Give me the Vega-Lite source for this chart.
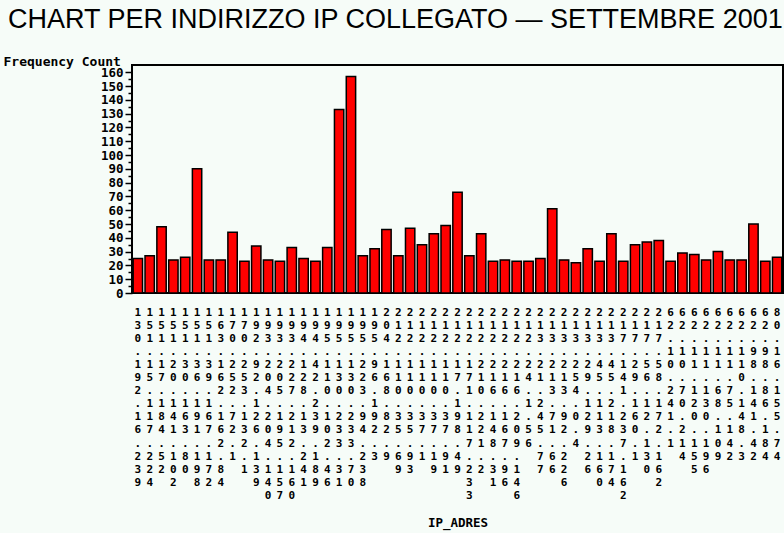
{
  "$schema": "https://vega.github.io/schema/vega-lite/v6.json",
  "width": 651,
  "height": 228,
  "autosize": {"type": "none"},
  "padding": {"left": 132, "top": 65, "right": 1, "bottom": 240},
  "background": "#f6fcf8",
  "title": {
    "text": "CHART PER INDIRIZZO IP COLLEGATO — SETTEMBRE 2001",
    "anchor": "start",
    "frame": "group",
    "font": "Liberation Sans",
    "fontSize": 27,
    "fontWeight": "normal",
    "color": "#000000",
    "dx": -124,
    "offset": 0,
    "baseline": "alphabetic"
  },
  "config": {"view": {"stroke": "#000000", "strokeWidth": 2}},
  "data": {
    "values": [
      {"ip": "130.192.16.239", "n": 25},
      {"ip": "151.15.117.224", "n": 27},
      {"ip": "151.17.184.52", "n": 48},
      {"ip": "151.20.141.102", "n": 24},
      {"ip": "151.30.163.80", "n": 26},
      {"ip": "151.36.191.198", "n": 90},
      {"ip": "151.39.167.172", "n": 24},
      {"ip": "163.162.162.84", "n": 24},
      {"ip": "170.252.72.1", "n": 44},
      {"ip": "170.253.132.1", "n": 23},
      {"ip": "192.92.126.139", "n": 34},
      {"ip": "193.204.204.140", "n": 24},
      {"ip": "193.205.195.157", "n": 23},
      {"ip": "193.227.212.160", "n": 33},
      {"ip": "194.128.13.241", "n": 25},
      {"ip": "194.42.239.189", "n": 23},
      {"ip": "195.110.102.46", "n": 33},
      {"ip": "195.130.233.31", "n": 133},
      {"ip": "195.130.233.70", "n": 157},
      {"ip": "195.223.94.238", "n": 27},
      {"ip": "195.96.192.3", "n": 32},
      {"ip": "204.168.82.9", "n": 46},
      {"ip": "212.110.35.69", "n": 27},
      {"ip": "212.110.35.93", "n": 47},
      {"ip": "212.110.37.1", "n": 35},
      {"ip": "212.110.37.19", "n": 43},
      {"ip": "212.110.37.91", "n": 49},
      {"ip": "212.17.198.49", "n": 73},
      {"ip": "212.171.117.233", "n": 27},
      {"ip": "212.210.221.2", "n": 43},
      {"ip": "212.216.148.31", "n": 23},
      {"ip": "212.216.167.96", "n": 24},
      {"ip": "212.216.209.146", "n": 23},
      {"ip": "212.24.1.56", "n": 23},
      {"ip": "213.21.245.77", "n": 25},
      {"ip": "213.213.71.66", "n": 61},
      {"ip": "213.213.92.226", "n": 24},
      {"ip": "213.254.0.4", "n": 22},
      {"ip": "213.29.129.26", "n": 32},
      {"ip": "213.45.113.160", "n": 23},
      {"ip": "213.45.218.174", "n": 43},
      {"ip": "217.141.237.162", "n": 23},
      {"ip": "217.29.160.1", "n": 35},
      {"ip": "217.56.12.130", "n": 37},
      {"ip": "217.58.172.162", "n": 38},
      {"ip": "62.10.241.1", "n": 23},
      {"ip": "62.10.70.214", "n": 29},
      {"ip": "62.11.120.155", "n": 28},
      {"ip": "62.11.130.196", "n": 24},
      {"ip": "62.11.68.109", "n": 30},
      {"ip": "62.11.75.142", "n": 24},
      {"ip": "62.110.148.3", "n": 24},
      {"ip": "62.98.141.42", "n": 50},
      {"ip": "62.98.86.184", "n": 23},
      {"ip": "80.16.155.74", "n": 26}
    ]
  },
  "mark": {"type": "bar", "color": "#ff0000", "stroke": "#000000", "strokeWidth": 1.5},
  "encoding": {
    "x": {
      "field": "ip",
      "type": "ordinal",
      "sort": null,
      "scale": {"paddingInner": 0.21, "paddingOuter": 0.1},
      "axis": {
        "title": "IP_ADRES",
        "labelExpr": "split(datum.label, '')",
        "labelAngle": 0,
        "labelAlign": "center",
        "labelBaseline": "top",
        "labelLineHeight": 13.1,
        "labelFont": "DejaVu Sans Mono",
        "labelFontWeight": "bold",
        "labelFontSize": 11,
        "labelColor": "#000000",
        "labelPadding": 13,
        "labelOverlap": false,
        "ticks": false,
        "tickSize": 0,
        "domain": false,
        "titleFont": "DejaVu Sans Mono",
        "titleFontWeight": "bold",
        "titleFontSize": 12.5,
        "titleColor": "#000000",
        "titleY": 233,
        "titleBaseline": "alphabetic"
      }
    },
    "y": {
      "field": "n",
      "type": "quantitative",
      "scale": {"domain": [0, 165.3], "nice": false},
      "axis": {
        "title": "Frequency Count",
        "titleAngle": 0,
        "titleX": -129,
        "titleY": -4,
        "titleAlign": "left",
        "titleBaseline": "middle",
        "titleFont": "DejaVu Sans Mono",
        "titleFontWeight": "bold",
        "titleFontSize": 13,
        "titleColor": "#000000",
        "values": [0, 5, 10, 15, 20, 25, 30, 35, 40, 45, 50, 55, 60, 65, 70, 75, 80, 85, 90, 95, 100, 105, 110, 115, 120, 125, 130, 135, 140, 145, 150, 155, 160],
        "labelExpr": "datum.value % 10 === 0 ? datum.label : ''",
        "tickSize": {"condition": {"test": "datum.value % 10 === 0", "value": 7}, "value": 4},
        "tickColor": "#000000",
        "tickWidth": 1.5,
        "labelPadding": 2,
        "labelFont": "DejaVu Sans Mono",
        "labelFontWeight": "bold",
        "labelFontSize": 12.5,
        "labelColor": "#000000",
        "labelFlush": false,
        "labelOverlap": false,
        "domain": false,
        "grid": false
      }
    }
  }
}
